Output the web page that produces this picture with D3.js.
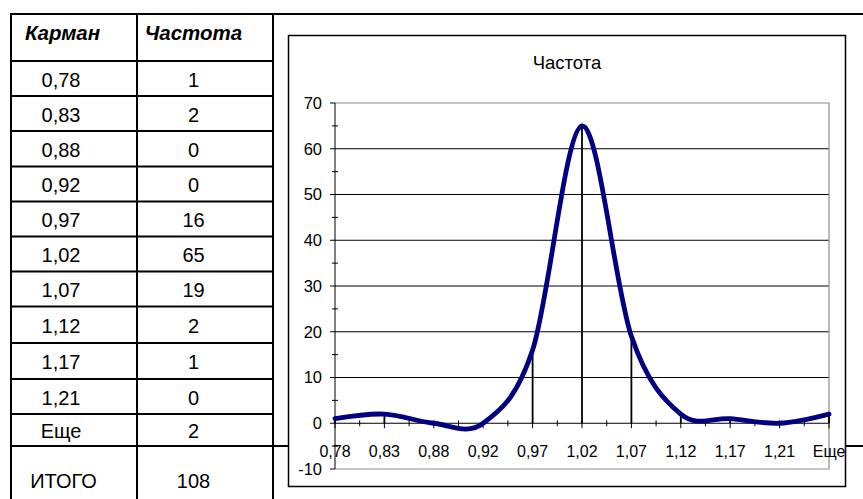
<!DOCTYPE html>
<html><head><meta charset="utf-8">
<script src="https://cdn.jsdelivr.net/npm/d3@7"></script>
<style>body{margin:0;background:#fff} svg{display:block} text{font-family:"Liberation Sans",Arial,sans-serif;fill:#000}</style>
</head><body><svg id="c" width="863" height="499"></svg>
<script>
// ---- data ----
const bins = ["0,78","0,83","0,88","0,92","0,97","1,02","1,07","1,12","1,17","1,21","Еще"];
const freq = [1,2,0,0,16,65,19,2,1,0,2];
const yTicks = [-10,0,10,20,30,40,50,60,70];
const headers = ["Карман","Частота"];
const totalLabel = "ИТОГО";
const totalValue = 108;
const chartTitle = "Частота";

// ---- layout ----
const W = 863, H = 499;
const colX = [11,137,273];
const rowY = [14,61,96,131,166.5,201.5,236.5,271.5,306.5,343,379,414,446];
const svg = d3.select("#c");

// table grid
const tg = svg.append("g").attr("stroke","#000").attr("stroke-width",2);
rowY.forEach((yy,i)=>{
  const full = (i===0 || i===rowY.length-1);
  tg.append("line").attr("x1",colX[0]-1).attr("x2",full?W:colX[2]+1).attr("y1",yy).attr("y2",yy);
});
colX.forEach(xx=>tg.append("line").attr("x1",xx).attr("x2",xx).attr("y1",rowY[0]-1).attr("y2",H));

const col1C = 61, col2C = 193.5;
svg.append("text").attr("x",col1C+1.5).attr("y",40).attr("text-anchor","middle")
  .attr("font-size",20.5).attr("font-weight","bold").attr("font-style","italic").text(headers[0]);
svg.append("text").attr("x",col2C).attr("y",40).attr("text-anchor","middle")
  .attr("font-size",20.5).attr("font-weight","bold").attr("font-style","italic").text(headers[1]);
bins.forEach((b,i)=>{
  const cy = (rowY[i+1]+rowY[i+2])/2 + 8;
  svg.append("text").attr("x",col1C).attr("y",cy).attr("text-anchor","middle").attr("font-size",20).text(b);
  svg.append("text").attr("x",col2C).attr("y",cy).attr("text-anchor","middle").attr("font-size",20).text(freq[i]);
});
svg.append("text").attr("x",63.5).attr("y",488).attr("text-anchor","middle").attr("font-size",20).text(totalLabel);
svg.append("text").attr("x",col2C).attr("y",488).attr("text-anchor","middle").attr("font-size",20).text(totalValue);

// chart box
svg.append("rect").attr("x",288.5).attr("y",35.5).attr("width",557).attr("height",451)
  .attr("fill","#fff").attr("stroke","#000").attr("stroke-width",1.5);
svg.append("text").attr("x",567).attr("y",69).attr("text-anchor","middle").attr("font-size",18.5).text(chartTitle);

const x = d3.scalePoint().domain(bins).range([335,829]);
const y = d3.scaleLinear().domain([-10,70]).range([469,103]);
const y0 = y(0);

// gridlines
yTicks.filter(t=>t>0 && t<70).forEach(t=>{
  svg.append("line").attr("x1",335).attr("x2",829).attr("y1",y(t)).attr("y2",y(t))
    .attr("stroke","#000").attr("stroke-width",1);
});
// plot area border (gray)
svg.append("path").attr("d",`M335,${y(70)}H829V${y(-10)}H335`).attr("fill","none")
  .attr("stroke","#8c8c8c").attr("stroke-width",1.2);

// y axis
svg.append("line").attr("x1",335).attr("x2",335).attr("y1",y(70)).attr("y2",y(-10)).attr("stroke","#000");
yTicks.forEach(t=>{
  svg.append("line").attr("x1",330).attr("x2",335).attr("y1",y(t)).attr("y2",y(t)).attr("stroke","#000");
  svg.append("text").attr("x",322).attr("y",y(t)).attr("dy","0.36em").attr("text-anchor","end")
    .attr("font-size",16.5).text(t);
});
for(let i=0;i<yTicks.length-1;i++){
  const m = (yTicks[i]+yTicks[i+1])/2;
  svg.append("line").attr("x1",332).attr("x2",338).attr("y1",y(m)).attr("y2",y(m)).attr("stroke","#000");
}

// x axis
svg.append("line").attr("x1",335).attr("x2",829).attr("y1",y0).attr("y2",y0).attr("stroke","#000");
bins.forEach((b,i)=>{
  svg.append("line").attr("x1",x(b)).attr("x2",x(b)).attr("y1",y0-3).attr("y2",y0+5).attr("stroke","#000");
  svg.append("text").attr("x",x(b)).attr("y",457).attr("text-anchor","middle").attr("font-size",16).text(b);
  if(i<bins.length-1){
    const mx = (x(b)+x(bins[i+1]))/2;
    svg.append("line").attr("x1",mx).attr("x2",mx).attr("y1",y0-3).attr("y2",y0+3).attr("stroke","#000");
  }
});

// drop lines
bins.forEach((b,i)=>{
  if(freq[i]>0) svg.append("line").attr("x1",x(b)).attr("x2",x(b)).attr("y1",y0).attr("y2",y(freq[i]))
    .attr("stroke","#000").attr("stroke-width",1.8);
});

// smoothed line
const pts = bins.map((b,i)=>({b, v:freq[i]}));
const line = d3.line().x(d=>x(d.b)).y(d=>y(d.v)).curve(d3.curveCatmullRom.alpha(0));
svg.append("path").attr("d",line(pts)).attr("fill","none").attr("stroke","#000080")
  .attr("stroke-width",4.8).attr("stroke-linejoin","round").attr("stroke-linecap","round");
</script>
</body></html>
